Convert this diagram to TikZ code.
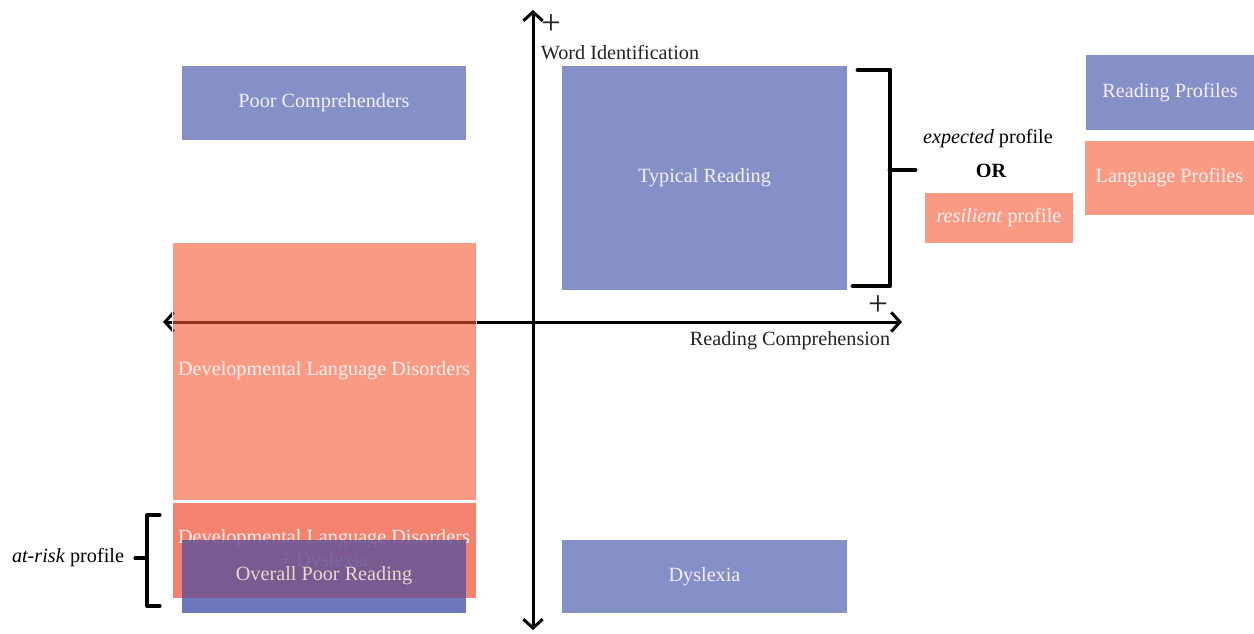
\documentclass[tikz,border=0pt]{standalone}
\usepackage{fontspec}
\setmainfont{Liberation Serif}
\usetikzlibrary{arrows.meta}
\definecolor{profblue}{RGB}{133,143,200}
\definecolor{riskblue}{RGB}{101,83,150}
\definecolor{stripblue}{RGB}{107,120,190}
\definecolor{langsalmon}{RGB}{249,155,132}
\definecolor{dldsalmon}{RGB}{245,88,50}
\definecolor{dyssalmon}{RGB}{243,130,110}
\definecolor{boxtext}{RGB}{246,240,240}
\definecolor{risktext}{RGB}{238,214,204}
\definecolor{axistext}{RGB}{35,35,35}

\begin{document}
\begin{tikzpicture}[x=0.02cm, y=-0.02cm,
    every node/.style={font=\fontsize{11.5}{14}\selectfont},
    boxsize/.style 2 args={minimum width=#1*0.02cm, minimum height=#2*0.02cm, inner sep=0pt},
    readbox/.style={fill=profblue, text=boxtext},
    langbox/.style={fill=langsalmon, text=boxtext},
    axis/.style={line width=1.7pt, {Straight Barb[length=5pt,width=11pt,line width=1.7pt]}-{Straight Barb[length=5pt,width=11pt,line width=1.7pt]}},
    plus/.style={text=axistext, font=\fontsize{20}{20}\selectfont, inner sep=0pt},
    bracket/.style={line width=#1, line cap=round, line join=round}]
        \useasboundingbox (0,0) rectangle (1254,633);
        % axes
        \coordinate (wtop) at (533,10);
        \coordinate (wbot) at (533,630);
        \coordinate (cleft) at (163,322);
        \coordinate (cright) at (902,322);
        \draw[axis] (wbot) -- (wtop);
        \draw[axis] (cleft) -- (cright);
        \node[plus] (wplus) at (551,25) {+};
        \node[text=axistext] (wlabel) at (620,53) {Word Identification};
        \node[plus] (cplus) at (878,306) {+};
        \node[text=axistext] (clabel) at (790,341) {Reading Comprehension};
        % reading profiles
        \node[readbox, boxsize={284}{74}] (pc) at (324,103) {Poor Comprehenders};
        \node[readbox, boxsize={285}{224}] (tr) at (704.5,178) {Typical Reading};
        \node[readbox, boxsize={285}{73}] (dys) at (704.5,576.5) {Dyslexia};
        % language profiles
        \node[fill=dldsalmon, fill opacity=0.6, text opacity=1, text=boxtext, draw=white, thin,
            boxsize={304}{258}] (dld) at (324,371) {Developmental Language Disorders};
        \node[fill=dyssalmon, text=boxtext, draw=white, thin, boxsize={304}{96}, align=center]
            (dlddys) at (324,550) {Developmental Language Disorders\\[-1pt]+ Dyslexia};
        % overall poor reading over the language box
        \path node[boxsize={284}{73}] (opr) at (324,576.5) {};
        \fill[riskblue, opacity=0.85] (opr.north west) rectangle (dlddys.south -| opr.east);
        \fill[stripblue] (dlddys.south -| opr.west) rectangle (opr.south east);
        \node[text=risktext] (oprtext) at (324,576) {Overall Poor Reading};
        % legend
        \node[readbox, boxsize={168}{75}] (rp) at (1170,92.5) {Reading Profiles};
        \node[langbox, boxsize={169}{74}] (lp) at (1169.5,178) {Language Profiles};
        % profile brackets
        \draw[bracket=2.8pt] (858,70) -- (890,70) -- (890,286) -- (853,286);
        \draw[bracket=2.8pt] (890,170) -- (915,170);
        \node (exp) at (988,139) {\textit{expected} profile};
        \node[font=\fontsize{11.5}{14}\selectfont\bfseries] (or) at (991,171) {OR};
        \node[langbox, boxsize={148}{50}] (res) at (999,218) {\textit{resilient} profile};
        \draw[bracket=1.8pt] (160,515) -- (147,515) -- (147,606) -- (160,606);
        \draw[bracket=1.8pt] (147,558) -- (135,558);
        \node (risk) at (68,558) {\textit{at-risk} profile};
    \end{tikzpicture}
\end{document}
